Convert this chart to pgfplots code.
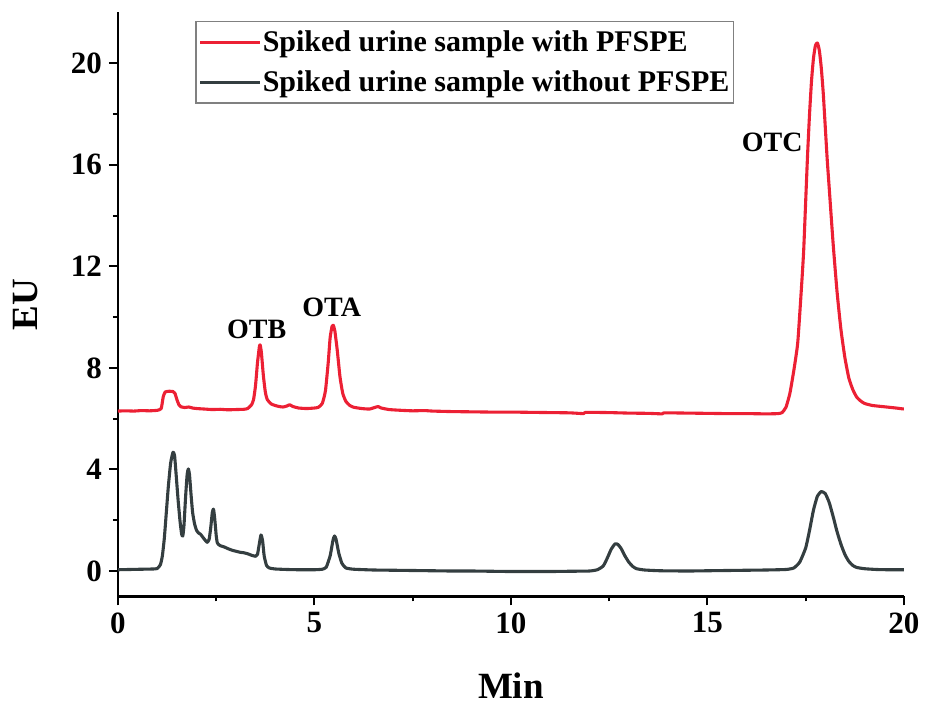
\documentclass[border=0pt]{standalone}
\usepackage{fontspec}
\setmainfont{Liberation Serif}
\usepackage{pgfplots}
\pgfplotsset{compat=1.18}

\definecolor{redline}{RGB}{236,32,52}
\definecolor{darkline}{RGB}{52,62,64}

\pgfplotstableread{
t v
0.00 6.30
0.20 6.31
0.40 6.30
0.60 6.32
0.80 6.31
1.00 6.33
1.10 6.40
1.15 6.85
1.20 7.05
1.30 7.08
1.40 7.07
1.45 7.00
1.50 6.75
1.55 6.55
1.60 6.47
1.70 6.44
1.80 6.46
1.90 6.42
2.00 6.40
2.20 6.38
2.40 6.36
2.60 6.37
2.80 6.35
3.00 6.36
3.20 6.37
3.30 6.40
3.40 6.55
3.45 6.75
3.50 7.30
3.55 8.20
3.60 8.85
3.62 8.90
3.65 8.60
3.70 7.70
3.75 7.05
3.80 6.75
3.90 6.58
4.00 6.52
4.10 6.48
4.20 6.46
4.30 6.50
4.37 6.55
4.45 6.48
4.60 6.42
4.80 6.40
5.00 6.42
5.10 6.45
5.20 6.60
5.28 7.10
5.35 8.20
5.40 9.20
5.45 9.65
5.48 9.68
5.52 9.45
5.58 8.70
5.65 7.65
5.72 7.00
5.80 6.68
5.90 6.52
6.00 6.45
6.20 6.40
6.40 6.38
6.55 6.45
6.62 6.48
6.70 6.42
6.90 6.36
7.20 6.33
7.50 6.31
7.80 6.32
8.00 6.30
8.50 6.28
9.00 6.27
9.50 6.26
10.00 6.26
10.50 6.25
11.00 6.24
11.50 6.23
11.85 6.20
11.90 6.25
12.50 6.24
13.00 6.22
13.50 6.21
13.85 6.19
13.90 6.23
14.50 6.22
15.00 6.21
15.50 6.20
16.00 6.20
16.50 6.19
16.80 6.20
16.90 6.24
17.00 6.45
17.10 7.00
17.20 7.90
17.30 9.00
17.40 11.30
17.45 12.60
17.50 14.50
17.55 16.40
17.60 18.00
17.65 19.30
17.70 20.20
17.75 20.70
17.80 20.80
17.85 20.50
17.90 19.80
17.95 18.80
18.00 17.50
18.05 16.20
18.10 15.10
18.20 12.90
18.30 11.00
18.40 9.50
18.50 8.40
18.60 7.60
18.70 7.15
18.80 6.85
18.90 6.70
19.00 6.60
19.20 6.52
19.50 6.47
19.80 6.42
20.00 6.38
}\withpfspe

\pgfplotstableread{
t v
0.00 0.05
0.30 0.06
0.60 0.07
0.90 0.08
1.00 0.10
1.08 0.25
1.13 0.60
1.18 1.30
1.23 2.30
1.28 3.30
1.34 4.25
1.40 4.68
1.44 4.55
1.48 3.80
1.53 2.80
1.58 1.95
1.62 1.45
1.65 1.38
1.68 1.80
1.72 2.90
1.76 3.80
1.79 4.02
1.82 3.80
1.86 3.00
1.90 2.30
1.95 1.85
2.00 1.60
2.05 1.50
2.10 1.45
2.15 1.35
2.20 1.25
2.27 1.13
2.32 1.25
2.36 1.70
2.40 2.30
2.43 2.44
2.46 2.10
2.50 1.40
2.53 1.10
2.60 1.00
2.70 0.95
2.80 0.88
2.90 0.82
3.00 0.78
3.10 0.74
3.20 0.72
3.30 0.68
3.40 0.62
3.50 0.58
3.55 0.65
3.60 1.10
3.64 1.42
3.68 1.20
3.72 0.60
3.78 0.22
3.85 0.12
4.00 0.08
4.30 0.06
4.60 0.05
5.00 0.05
5.20 0.07
5.30 0.15
5.40 0.60
5.47 1.20
5.51 1.38
5.55 1.25
5.62 0.70
5.70 0.30
5.80 0.12
6.00 0.07
6.50 0.04
7.00 0.03
7.50 0.02
8.00 0.01
8.50 0.00
9.00 0.00
9.50 -0.01
10.00 -0.02
10.50 -0.02
11.00 -0.02
11.50 -0.01
12.00 0.00
12.20 0.05
12.35 0.20
12.45 0.50
12.55 0.85
12.65 1.07
12.72 1.05
12.80 0.90
12.90 0.60
13.00 0.35
13.10 0.18
13.20 0.09
13.40 0.04
13.80 0.01
14.50 0.00
15.00 0.01
15.50 0.02
16.00 0.03
16.50 0.04
17.00 0.06
17.20 0.12
17.35 0.35
17.50 0.90
17.60 1.60
17.70 2.40
17.80 2.95
17.90 3.13
18.00 3.05
18.10 2.70
18.20 2.15
18.30 1.55
18.40 1.05
18.50 0.65
18.60 0.38
18.70 0.22
18.80 0.14
19.00 0.09
19.30 0.06
19.60 0.05
20.00 0.05
}\withoutpfspe

\begin{document}
\begin{tikzpicture}
\begin{axis}[
  scale only axis,
  width=393pt, height=292pt,
  xmin=0, xmax=20, ymin=-1.0, ymax=22.0,
  axis lines*=left,
  axis line style={line width=1.3pt},
  xtick={0,5,...,20}, minor x tick num=1,
  ytick={0,4,...,20}, minor y tick num=1,
  tick align=outside,
  major tick length=4.5pt, minor tick length=2.5pt,
  every tick/.style={line width=1pt, black},
  /pgf/number format/assume math mode=true,
  tick label style={font=\bfseries\fontsize{15.5}{16}\selectfont},
  xlabel={Min}, ylabel={EU},
  label style={font=\bfseries\fontsize{18.5}{20}\selectfont},
  xlabel style={at={(axis description cs:0.5,-0.153)}, anchor=center},
  ylabel style={at={(axis description cs:-0.118,0.5)}, anchor=center},
  legend style={at={(axis description cs:0.098,0.986)}, anchor=north west,
    draw=gray, line width=0.8pt, inner xsep=1.5pt, inner ysep=4pt,
    font=\bfseries\fontsize{15}{16}\selectfont, row sep=7pt,
    nodes={inner sep=0.5pt}},
  legend cell align=left,
  legend image code/.code={\draw[#1, line width=1.5pt] (0pt,0pt) -- (30pt,0pt);},
  every axis plot/.append style={line join=round, smooth, tension=0.3},
]
\addplot[redline, line width=1.55pt] table[x=t, y=v] {\withpfspe};
\addlegendentry{Spiked urine sample with PFSPE}
\addplot[darkline, line width=1.55pt] table[x=t, y=v] {\withoutpfspe};
\addlegendentry{Spiked urine sample without PFSPE}

\node[font=\bfseries\fontsize{14}{15}\selectfont] at (axis cs:3.53,9.53) {OTB};
\node[font=\bfseries\fontsize{14}{15}\selectfont] at (axis cs:5.44,10.4) {OTA};
\node[font=\bfseries\fontsize{14}{15}\selectfont] at (axis cs:16.65,16.88) {OTC};

\coordinate (sw) at (rel axis cs:0,0);
\coordinate (ne) at (rel axis cs:1,1);
\end{axis}
\path ([shift={(-59pt,-55pt)}]sw) rectangle ([shift={(11pt,6.25pt)}]ne);
\end{tikzpicture}
\end{document}
